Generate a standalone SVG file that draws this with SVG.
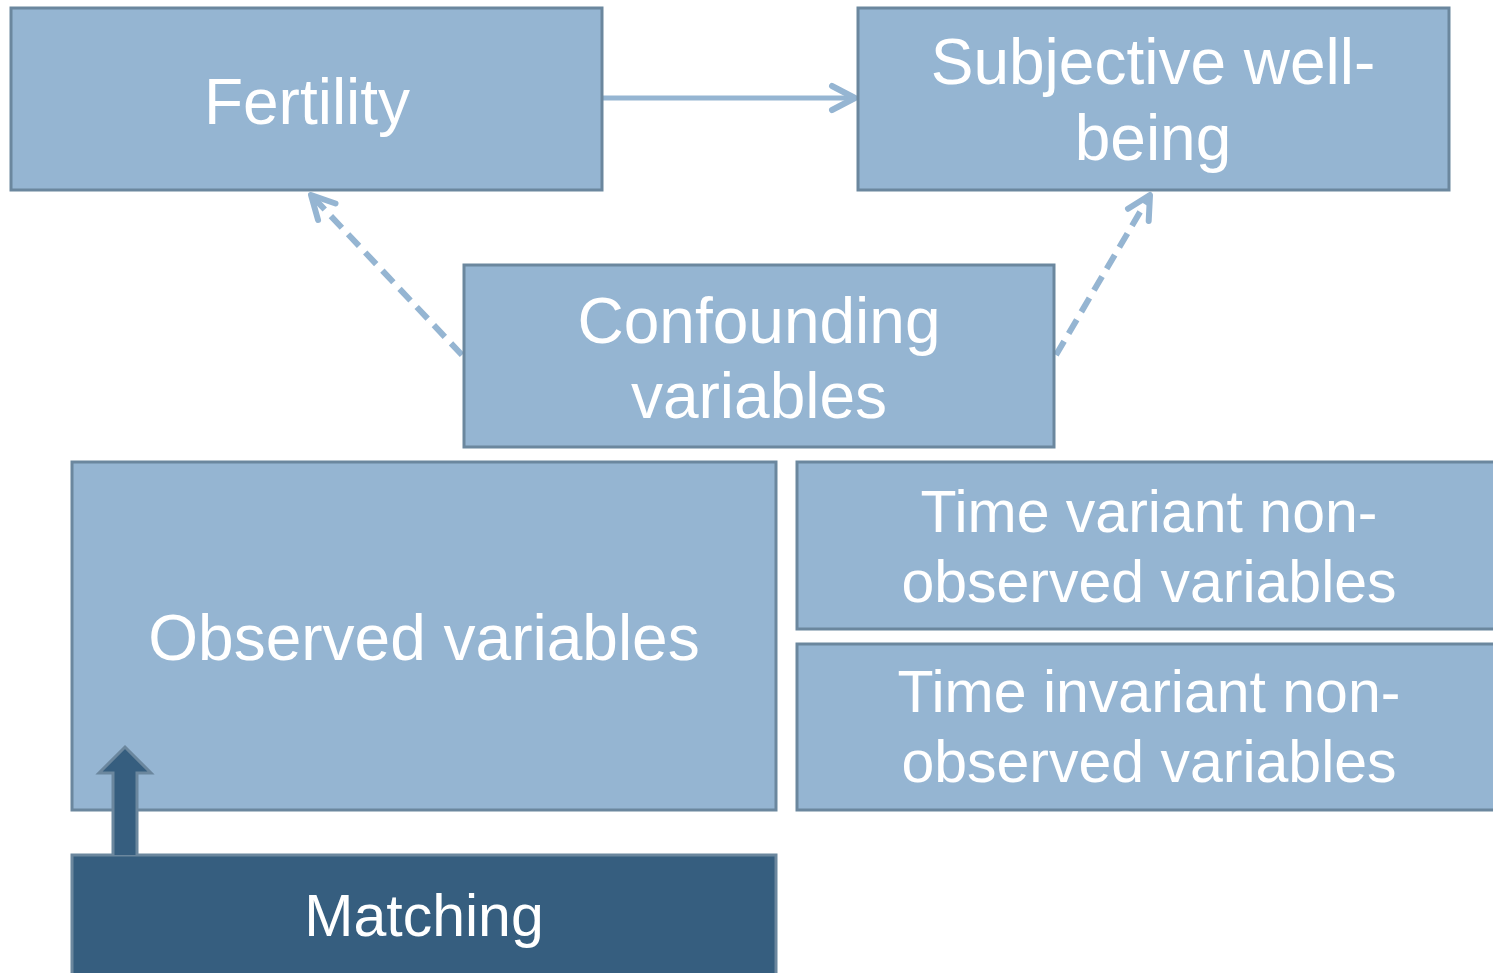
<svg xmlns="http://www.w3.org/2000/svg" width="1493" height="973" viewBox="0 0 1493 973">
<defs>
<style>
.box{fill:#95b5d2;stroke:#6b879e;stroke-width:3}
.dark{fill:#365e7f;stroke:#6b879e;stroke-width:3}
.t{font-family:"Liberation Sans",Arial,sans-serif;fill:#ffffff;text-anchor:middle}
.big{font-size:64px}
.mid{font-size:59px}
.con{fill:none;stroke:#95b5d2;stroke-width:5}
.dash{stroke-width:6;stroke-dasharray:16 9}
</style>
<marker id="open" viewBox="0 0 32 32" refX="27" refY="16" markerWidth="32" markerHeight="32" markerUnits="userSpaceOnUse" orient="auto">
<path d="M4 4 L27 16 L4 28" fill="none" stroke="#95b5d2" stroke-width="6" stroke-linecap="round" stroke-linejoin="round"/>
</marker>
</defs>
<rect width="1493" height="973" fill="#ffffff"/>
<g id="connectors">
<line class="con" x1="603" y1="98" x2="855" y2="98" marker-end="url(#open)"/>
<line class="con dash" x1="462" y1="355" x2="311" y2="195" marker-end="url(#open)"/>
<line class="con dash" x1="1056" y1="355" x2="1150" y2="195" marker-end="url(#open)"/>
</g>
<g id="fertility">
<rect class="box" x="11" y="8" width="591" height="182"/>
<text class="t big" x="307" y="124">Fertility</text>
</g>
<g id="swb">
<rect class="box" x="858" y="8" width="591" height="182"/>
<text class="t big" x="1153" y="84">Subjective well-</text>
<text class="t big" x="1153" y="160">being</text>
</g>
<g id="confounding">
<rect class="box" x="464" y="265" width="590" height="182"/>
<text class="t big" x="759" y="343">Confounding</text>
<text class="t big" x="759" y="418">variables</text>
</g>
<g id="observed">
<rect class="box" x="72" y="462" width="704" height="348"/>
<text class="t big" x="424" y="660">Observed variables</text>
</g>
<g id="timevariant">
<rect class="box" x="797" y="462" width="705" height="167"/>
<text class="t mid" x="1149" y="532">Time variant non-</text>
<text class="t mid" x="1149" y="602">observed variables</text>
</g>
<g id="timeinvariant">
<rect class="box" x="797" y="644" width="705" height="166"/>
<text class="t mid" x="1149" y="712">Time invariant non-</text>
<text class="t mid" x="1149" y="782">observed variables</text>
</g>
<g id="matching">
<rect class="dark" x="72" y="855" width="704" height="130"/>
<text class="t mid" x="424" y="936">Matching</text>
</g>
<g id="matching-arrow">
<path class="dark" d="M113 855 L113 773 L99 773 L125 747 L151 773 L137 773 L137 855"/>
</g>
</svg>
